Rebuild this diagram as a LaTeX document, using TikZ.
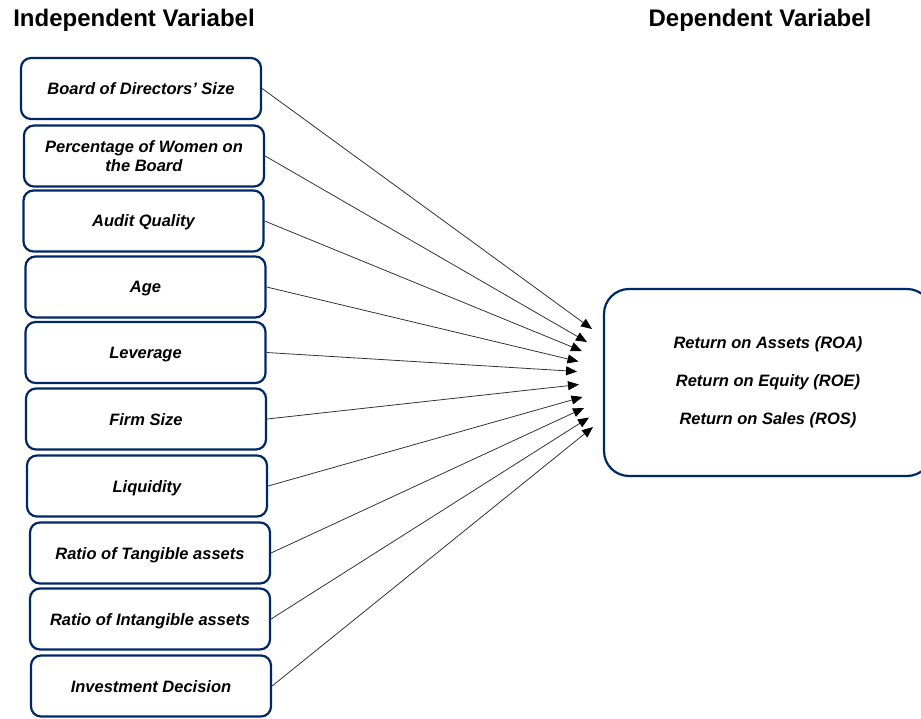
\documentclass[tikz,border=0pt]{standalone}
\usepackage{fontspec}
\setmainfont{Liberation Sans}
\usetikzlibrary{arrows.meta}
\definecolor{boxblue}{RGB}{0,40,104}
\begin{document}
\begin{tikzpicture}
[x=1pt, y=-1pt,
  boxdecorate/.style={shape=rectangle,rounded corners=10pt,draw=boxblue,line width=2.2pt,
    minimum width=240pt,minimum height=61pt,align=center,
    font=\fontsize{16.5}{19}\selectfont\bfseries\itshape},%
  onelinedecorate/.style={text height=12pt,text depth=0pt},%
  resultdecorate/.style={shape=rectangle,rounded corners=25pt,draw=boxblue,line width=2.2pt,
    minimum width=328pt,minimum height=187pt,align=center,
    font=\fontsize{16.5}{38}\selectfont\bfseries\itshape},%
  titledecorate/.style={anchor=base,font=\fontsize{24}{28}\selectfont\bfseries},%
  linedecorate/.style={-{Triangle[length=11pt,width=9pt,black]},line width=0.8pt,draw=black!80}]
\useasboundingbox (0,0) rectangle (921,719);
%% titles
\node[titledecorate] (indep) at (134,27) {Independent Variabel};
\node[titledecorate] (dep) at (760,27) {Dependent Variabel};
%% nodes or boxes
\foreach \nodename/\x/\y/\nodetext in {board/141/88.5/Board of Directors’ Size,
  audit/143.5/221/Audit Quality, age/145.5/287/Age, leverage/145.5/352.5/Leverage,
  size/146/419/Firm Size, liquidity/147/486/Liquidity,
  tangible/150/553/Ratio of Tangible assets, intangible/150/619/Ratio of Intangible assets,
  investment/151/686/Investment Decision}
{
  \node (\nodename) at (\x,\y) [boxdecorate,onelinedecorate] {\nodetext};
}
\node (women) at (144,156) [boxdecorate] {Percentage of Women on\\the Board};
\node (performance) at (768,382.5) [resultdecorate]
  {Return on Assets (ROA)\\Return on Equity (ROE)\\Return on Sales (ROS)};
%% arrow tips
\foreach \tipname/\x/\y in {tipa/592/329, tipb/587/342, tipc/582/351, tipd/578.5/361.5,
  tipe/577/371.5, tipf/579/384.5, tipg/582.5/397, tiph/584/408, tipi/589/417.5, tipj/593/427}
{
  \coordinate (\tipname) at (\x,\y);
}
%% edges or lines
\path
\foreach \startnode/\endnode in {board/tipa, women/tipb, audit/tipc, age/tipd,
  leverage/tipe, size/tipf, liquidity/tipg, tangible/tiph, intangible/tipi,
  investment/tipj} {
  (\startnode.east) edge[linedecorate] (\endnode)
};
\end{tikzpicture}
\end{document}
